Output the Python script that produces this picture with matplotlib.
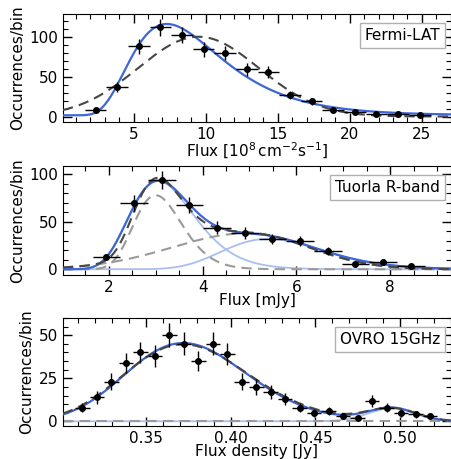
import numpy as np
import matplotlib
matplotlib.use("Agg")
import matplotlib.pyplot as plt
from matplotlib.ticker import MultipleLocator

BLUE = "#3d66d8"
LIGHT = "#a8bff0"
DARK = "#474747"
GREY = "#9a9a9a"

# --- Fermi-LAT histogram ---
fermi_x = [2.36, 3.86, 5.36, 6.86, 8.36, 9.86, 11.36, 12.86, 14.36, 15.86,
           17.36, 18.86, 20.36, 21.86, 23.36, 24.86]
fermi_n = [8, 37, 88, 112, 102, 84, 80, 59, 56, 27, 19, 8, 6, 3, 3, 2]
fermi_halfbin = 0.75
# log-normal fit: amplitude, mode, sigma(ln), floor
fermi_lognorm = [114.5, 7.3, 0.43, 1.5]
# gaussian fit: amplitude, mean, sigma
fermi_gauss = [100, 9.5, 4.2]

# --- Tuorla R-band histogram ---
tuorla_x = [1.95, 2.54, 3.13, 3.72, 4.31, 4.90, 5.49, 6.08, 6.67, 7.26, 7.85, 8.44]
tuorla_n = [13, 70, 94, 68, 44, 38, 32, 30, 19, 6, 8, 3]
tuorla_halfbin = 0.295
# two log-normal components: amplitude, mode, sigma(ln)
tuorla_ln1 = [93, 3.05, 0.225]
tuorla_ln2 = [32, 5.4, 0.197]
# log-normal + split-normal components
tuorla_alt1 = [78, 3.0, 0.171]
tuorla_alt2 = [38, 4.95, 1.6, 1.32]   # amplitude, mode, left sigma, right sigma

# --- OVRO 15 GHz histogram ---
ovro_x = [0.3126 + 0.00854 * i for i in range(25)]
ovro_n = [8, 14, 23, 34, 40, 38, 50, 45, 35, 45, 39, 23, 20, 17, 13, 8, 5, 6,
          3, 2, 12, 8, 5, 4, 3]
ovro_halfbin = 0.0043
ovro_ln1 = [45.5, 0.372, 0.096]
ovro_g2 = [7.5, 0.495, 0.014]
ovro_alt1 = [44.8, 0.372, 0.099]
ovro_alt2 = [7.2, 0.495, 0.0145]


def lognorm(x, amp, mode, s):
    return amp * np.exp(-(np.log(x) - np.log(mode)) ** 2 / (2 * s ** 2))


def gauss(x, amp, mu, s):
    return amp * np.exp(-(x - mu) ** 2 / (2 * s ** 2))


def split_gauss(x, amp, mu, sl, sr):
    s = np.where(x < mu, sl, sr)
    return amp * np.exp(-(x - mu) ** 2 / (2 * s ** 2))


def points(ax, x, n, hb):
    n = np.asarray(n, float)
    ax.errorbar(x, n, yerr=np.sqrt(n), xerr=hb, fmt="o", color="k", ms=4,
                elinewidth=1.0, capsize=0, zorder=6)


def style(ax, label, xlim, ylim, xmaj, xmin, ymaj, ymin, xlabel):
    ax.set_xlim(*xlim)
    ax.set_ylim(*ylim)
    ax.xaxis.set_major_locator(MultipleLocator(xmaj))
    ax.xaxis.set_minor_locator(MultipleLocator(xmin))
    ax.yaxis.set_major_locator(MultipleLocator(ymaj))
    ax.yaxis.set_minor_locator(MultipleLocator(ymin))
    ax.tick_params(which="both", direction="in", top=True, right=True, labelsize=11)
    ax.tick_params(which="major", length=6.5, width=1)
    ax.tick_params(which="minor", length=3.5, width=0.8)
    ax.set_xlabel(xlabel, fontsize=11, labelpad=-1)
    ax.set_ylabel("Occurrences/bin", fontsize=11, labelpad=3)
    ax.text(0.972, 0.80, label, transform=ax.transAxes, ha="right", va="center",
            fontsize=11, zorder=10,
            bbox=dict(boxstyle="square,pad=0.33", fc="white", ec="#b0b0b0", lw=1))


fig = plt.figure(figsize=(4.52, 4.59), dpi=100)
ax1 = fig.add_axes([0.139, 0.734, 0.859, 0.2355])
ax2 = fig.add_axes([0.139, 0.401, 0.859, 0.237])
ax3 = fig.add_axes([0.139, 0.072, 0.859, 0.235])

# Fermi-LAT
xs = np.linspace(0.08, 27.04, 600)
ax1.plot(xs, lognorm(xs, *fermi_lognorm[:3]) + fermi_lognorm[3], color=BLUE, lw=1.6, zorder=3)
ax1.plot(xs, gauss(xs, *fermi_gauss), color=DARK, lw=1.5, ls=(0, (5, 3)), zorder=4)
points(ax1, fermi_x, fermi_n, fermi_halfbin)
style(ax1, "Fermi-LAT", (0.08, 27.04), (-7, 128.5), 5, 1, 50, 10,
      r"Flux [$10^8\,\mathrm{cm}^{-2}\mathrm{s}^{-1}$]")

# Tuorla R-band
xs = np.linspace(1.02, 9.30, 600)
c1 = lognorm(xs, *tuorla_ln1)
c2 = lognorm(xs, *tuorla_ln2)
a1 = lognorm(xs, *tuorla_alt1)
a2 = split_gauss(xs, *tuorla_alt2)
ax2.plot(xs, c1, color=LIGHT, lw=1.3, zorder=2)
ax2.plot(xs, c2, color=LIGHT, lw=1.3, zorder=2)
ax2.plot(xs, a1, color=GREY, lw=1.5, ls=(0, (5, 3)), zorder=2)
ax2.plot(xs, a2, color=GREY, lw=1.5, ls=(0, (5, 3)), zorder=2)
ax2.plot(xs, c1 + c2, color=BLUE, lw=1.6, zorder=3)
ax2.plot(xs, a1 + a2, color=DARK, lw=1.5, ls=(0, (5, 3)), zorder=4)
points(ax2, tuorla_x, tuorla_n, tuorla_halfbin)
style(ax2, "Tuorla R-band", (1.02, 9.30), (-6, 108.7), 2, 0.5, 50, 10, "Flux [mJy]")

# OVRO 15GHz
xs = np.linspace(0.301, 0.530, 600)
c1 = lognorm(xs, *ovro_ln1)
c2 = gauss(xs, *ovro_g2)
a1 = lognorm(xs, *ovro_alt1) + gauss(xs, *ovro_alt2)
a2 = np.zeros_like(xs)
ax3.plot(xs, c2, color=LIGHT, lw=1.3, zorder=2)
ax3.plot(xs, a2, color=GREY, lw=1.5, ls=(0, (5, 3)), zorder=2)
ax3.plot(xs, c1 + c2, color=BLUE, lw=1.6, zorder=3)
ax3.plot(xs, a1, color=DARK, lw=1.5, ls=(0, (5, 3)), zorder=4)
points(ax3, ovro_x, ovro_n, ovro_halfbin)
style(ax3, "OVRO 15GHz", (0.301, 0.530), (-2.7, 60), 0.05, 0.01, 25, 5,
      "Flux density [Jy]")

fig.savefig("out.png", dpi=100)
